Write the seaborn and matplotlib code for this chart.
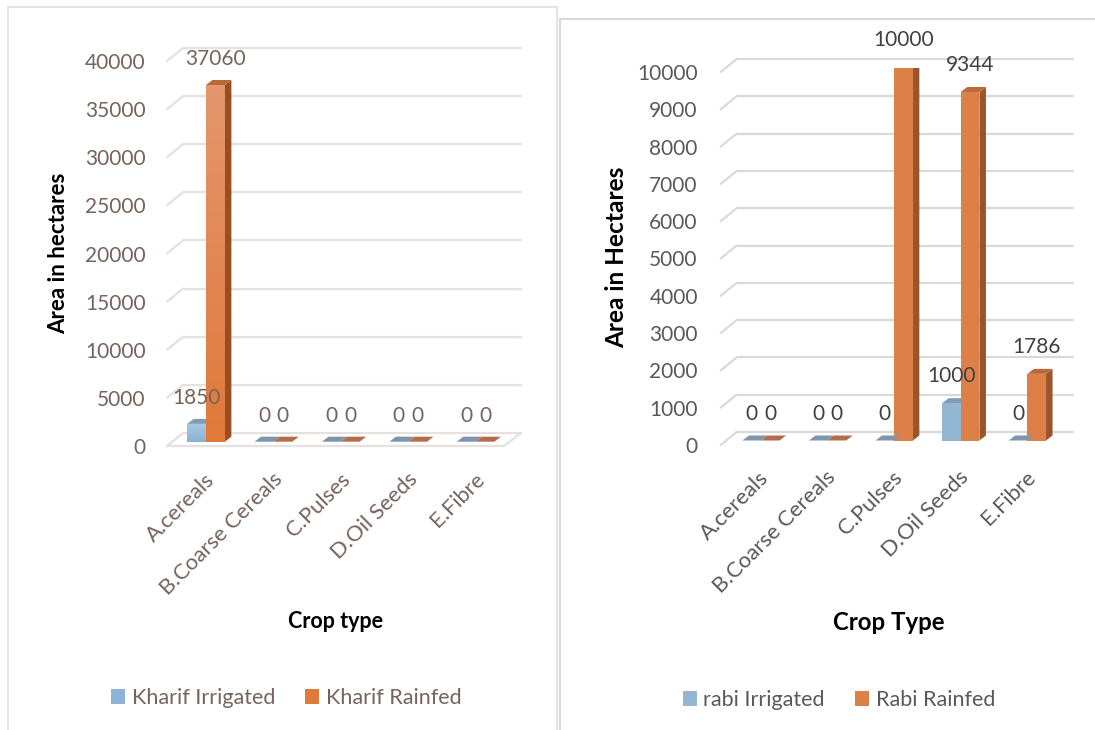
import numpy as np
import pandas as pd
import matplotlib
matplotlib.use("Agg")
import matplotlib.pyplot as plt
import seaborn as sns
from matplotlib.colors import LinearSegmentedColormap
from matplotlib.patches import Polygon, Rectangle
from matplotlib.lines import Line2D
from matplotlib.transforms import ScaledTranslation

# ---- data -------------------------------------------------------------
crops = ["A.cereals", "B.Coarse Cereals", "C.Pulses", "D.Oil Seeds", "E.Fibre"]
kharif_irrigated = [1850, 0, 0, 0, 0]
kharif_rainfed = [37060, 0, 0, 0, 0]
rabi_irrigated = [0, 0, 0, 1000, 0]
rabi_rainfed = [0, 0, 10000, 9344, 1786]
kharif_names = ["Kharif Irrigated", "Kharif Rainfed"]
rabi_names = ["rabi Irrigated", "Rabi Rainfed"]
kharif_ticks = [0, 5000, 10000, 15000, 20000, 25000, 30000, 35000, 40000]
rabi_ticks = [0, 1000, 2000, 3000, 4000, 5000, 6000, 7000, 8000, 9000, 10000]

W, H, DPI = 1095, 730, 100

sns.set_style("white")
plt.rcParams["font.family"] = ["Lato", "DejaVu Sans"]

fig = plt.figure(figsize=(W / DPI, H / DPI), dpi=DPI)
fig.patch.set_facecolor("white")


def px_axes(x0, x1, y_bottom, y_top):
    """Axes placed by pixel edges (y measured from the top of the figure)."""
    return fig.add_axes([x0 / W, 1 - y_bottom / H, (x1 - x0) / W, (y_bottom - y_top) / H])


def shift(dx, dy):
    return ScaledTranslation(dx / DPI, dy / DPI, fig.dpi_scale_trans)


def draw_panel(ax, irrigated, rainfed, names, ticks, st):
    n = len(crops)
    df = pd.DataFrame({
        "Crop": crops * 2,
        "Season": [names[0]] * n + [names[1]] * n,
        "Area": irrigated + rainfed,
    })
    sns.barplot(data=df, x="Crop", y="Area", hue="Season", order=crops,
                hue_order=names, palette=[st["blue"], st["orange"]],
                width=0.56, saturation=1, linewidth=0, errorbar=None,
                legend=False, ax=ax, zorder=2)

    ymax = ticks[-1]
    x0, x1 = -0.5, n - 0.5
    ax.set_xlim(x0, x1)
    ax.set_ylim(0, ymax)
    for s in ax.spines.values():
        s.set_visible(False)
    ax.set_xlabel("")
    ax.set_ylabel("")
    ax.patch.set_alpha(0)

    sx = ax.bbox.width / (x1 - x0)   # pixels per category
    sy = ax.bbox.height / ymax       # pixels per unit of area

    # back wall gridlines with the short perspective stub on the left
    fdx, fdy = st["front"]
    bdx, bdy = st["back"]
    for t in ticks:
        by = t + bdy / sy
        bx0 = x0 + bdx / sx
        bx1 = x1 + (bdx + st["back_extra"]) / sx
        ax.add_line(Line2D([bx0, bx1], [by, by], color=st["grid"], lw=1.6,
                           zorder=0.5, clip_on=False))
        ax.add_line(Line2D([x0 + fdx / sx, bx0], [t + fdy / sy, by],
                           color=st["grid"], lw=1.6, zorder=0.5, clip_on=False))
    if st["floor"]:
        fy = fdy / sy
        ax.add_line(Line2D([x0 + fdx / sx, x1 + fdx / sx, x1 + (bdx + st["back_extra"]) / sx],
                           [fy, fy, bdy / sy], color=st["grid"], lw=1.6,
                           zorder=0.5, clip_on=False))

    # 3-D look: side and top faces for each column
    ddx, ddy = 6.5 / sx, 5.0 / sy
    bars = {}
    for p in list(ax.patches):
        cx = p.get_x() + p.get_width() / 2
        cat = int(round(cx))
        series = 0 if cx < cat else 1
        bars[(series, cat)] = p
        bx, bw, h = p.get_x(), p.get_width(), p.get_height()
        if h > 0:
            ax.add_patch(Polygon([(bx + bw, 0), (bx + bw + ddx, ddy),
                                  (bx + bw + ddx, h + ddy), (bx + bw, h)],
                                 closed=True, fc=st["side"][series], ec="none",
                                 zorder=1.9))
            if st["grad"] is not None:
                cmap = LinearSegmentedColormap.from_list("shade", st["grad"][series])
                im = ax.imshow(np.linspace(0, 1, 256).reshape(-1, 1),
                               extent=[bx, bx + bw, 0, h], origin="lower",
                               aspect="auto", cmap=cmap, zorder=2.05,
                               interpolation="bilinear")
                im.set_clip_path(p)
        ax.add_patch(Polygon([(bx, h), (bx + bw, h), (bx + bw + ddx, h + ddy),
                              (bx + ddx, h + ddy)], closed=True,
                             fc=st["top"][series] if h > 0 else st["flat"][series],
                             ec="none", zorder=1.9 if h > 0 else 2.1))

    # value labels
    for series, values in enumerate([irrigated, rainfed]):
        for cat, v in enumerate(values):
            p = bars[(series, cat)]
            ax.annotate(f"{v}", xy=(p.get_x() + p.get_width() / 2, v),
                        xytext=(0, st["lab_off"]), textcoords="offset pixels",
                        ha="center", va="center", fontsize=st["fs"],
                        color=st["label_color"], zorder=5)

    ax.set_xlim(x0, x1)
    ax.set_ylim(0, ymax)
    ax.grid(False)

    ax.set_yticks(ticks)
    ax.set_yticklabels([str(t) for t in ticks])
    ax.set_xticks(range(n))
    ax.set_xticklabels(crops, rotation=45, ha="right", va="center",
                       rotation_mode="anchor")
    ax.tick_params(axis="y", length=0, pad=st["ypad"], labelsize=st["fs"],
                   labelcolor=st["tick_color"])
    ax.tick_params(axis="x", length=0, pad=st["xpad"], labelsize=st["xfs"],
                   labelcolor=st["tick_color"])
    for lab in ax.get_yticklabels():
        lab.set_transform(lab.get_transform() + shift(fdx, fdy))
    for lab in ax.get_xticklabels():
        lab.set_transform(lab.get_transform() + shift(st["xshift"], 0))


kharif_style = dict(
    blue="#8DB3D6", orange="#E07A3A",
    side=["#6C8AA6", "#9A4E22"], top=["#7F9DB9", "#B9683A"],
    flat=["#7E95AB", "#B46D48"],
    grad=[["#8AB1D5", "#A9C7E1"], ["#E0793A", "#E4966D"]],
    grid="#E6E0DE", front=(-5.3, -4.3), back=(10.7, 8.7), back_extra=1.0,
    floor=True, lab_off=26, fs=15, xfs=15.8, ypad=15.5, xpad=25, xshift=6,
    tick_color="#75635C", label_color="#75635C",
)
rabi_style = dict(
    blue="#93B6D3", orange="#DD8047",
    side=["#6F8CA8", "#9B552A"], top=["#7E9BB6", "#B86A3A"],
    flat=["#7E95AB", "#B46D48"],
    grad=None,
    grid="#D9D9D9", front=(-7.0, -4.5), back=(9.0, 8.5), back_extra=3.5,
    floor=False, lab_off=27, fs=15, xfs=15.8, ypad=16.5, xpad=24.5, xshift=5,
    tick_color="#595959", label_color="#404040",
)

ax_k = px_axes(172.3, 509.3, 441.7, 56.7)
draw_panel(ax_k, kharif_irrigated, kharif_rainfed, kharif_names, kharif_ticks, kharif_style)

ax_r = px_axes(727.7, 1060.7, 440.5, 67.5)
draw_panel(ax_r, rabi_irrigated, rabi_rainfed, rabi_names, rabi_ticks, rabi_style)

# axis titles
fig.text(59 / W, 1 - 253 / H, "Area in hectares", rotation=90, ha="center",
         va="center", fontsize=16, fontweight="bold", color="black")
fig.text(335 / W, 1 - 622 / H, "Crop type", ha="center", va="center",
         fontsize=15.5, fontweight="bold", color="black")
fig.text(617 / W, 1 - 257 / H, "Area in Hectares", rotation=90, ha="center",
         va="center", fontsize=17.6, fontweight="bold", color="black")
fig.text(889 / W, 1 - 622 / H, "Crop Type", ha="center", va="center",
         fontsize=17.3, fontweight="bold", color="black")


def add_legend(names, colors, center, color):
    handles = [Rectangle((0, 0), 1, 1, fc=c, ec="none") for c in colors]
    fig.legend(handles, names, loc="center",
               bbox_to_anchor=(center[0] / W, 1 - center[1] / H), ncol=2,
               frameon=False, fontsize=15.5, handlelength=0.65,
               handleheight=0.65, handletextpad=0.3, columnspacing=1.4,
               labelcolor=color, borderpad=0, borderaxespad=0)


add_legend(kharif_names, ["#8DB3D6", "#E07A3A"], (286.5, 698), "#75635C")
add_legend(rabi_names, ["#93B6D3", "#DD8047"], (839, 700), "#595959")

# chart frames
fig.add_artist(Rectangle((8 / W, -0.05), (557 - 8) / W, 1.05 - 7 / H,
                         transform=fig.transFigure, fill=False,
                         ec="#E9E2E0", lw=1.5))
fig.add_artist(Rectangle((560 / W, -0.05), 1.0, 1.05 - 19 / H,
                         transform=fig.transFigure, fill=False,
                         ec="#D9D9D9", lw=1.5))

fig.savefig("out.png", dpi=DPI, facecolor="white")
